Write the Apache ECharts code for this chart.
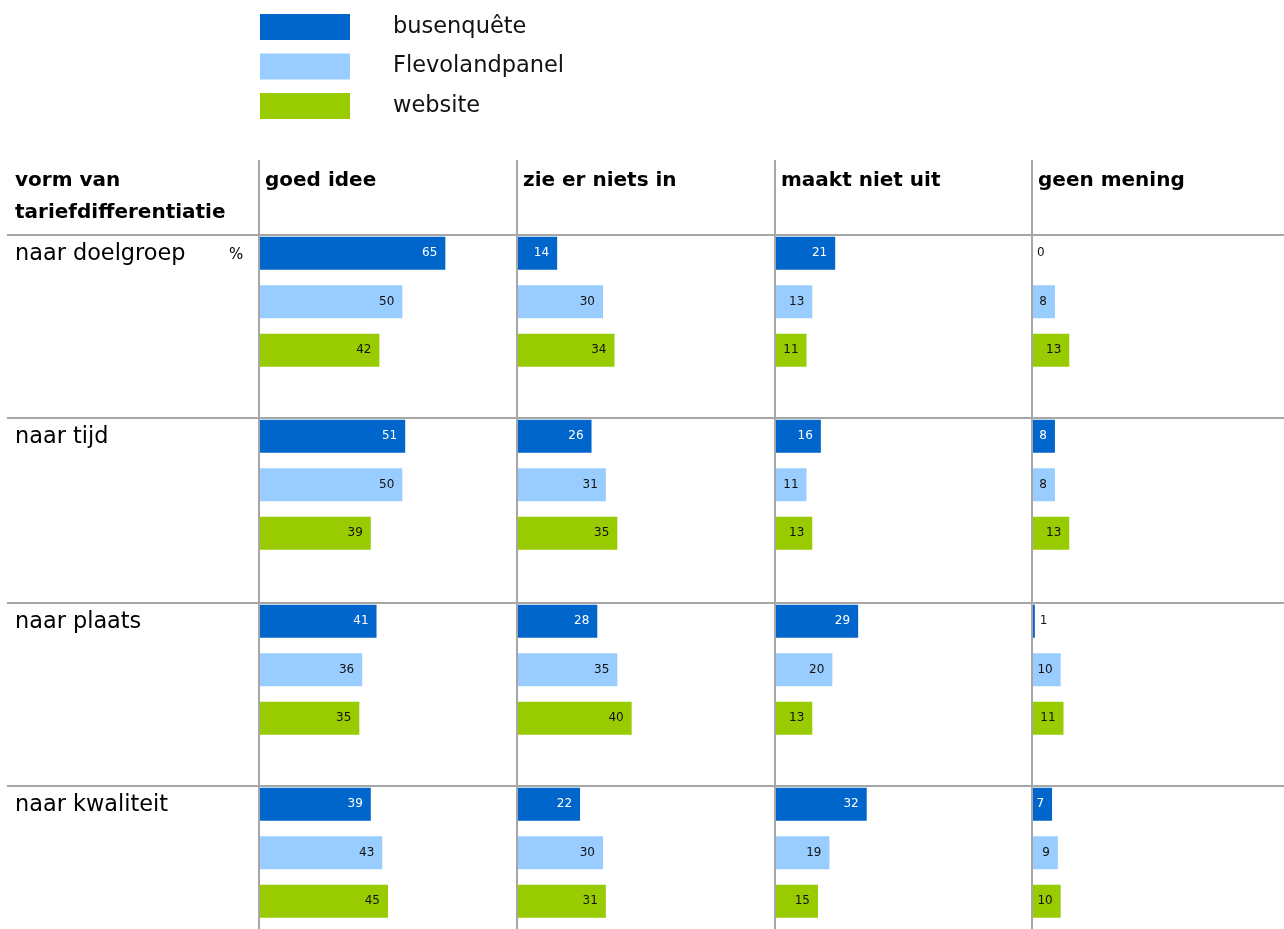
<!DOCTYPE html>
<html>
<head>
<meta charset="utf-8">
<script src="https://cdn.jsdelivr.net/npm/echarts@6/dist/echarts.min.js"></script>
<style>
  html, body { margin: 0; padding: 0; background: #fff; }
  #chart { width: 1284px; height: 929px; }
</style>
</head>
<body>
<div id="chart"></div>
<script>
// kolommen (antwoorden) en rijen (vorm van tariefdifferentiatie)
const answers = ["goed idee", "zie er niets in", "maakt niet uit", "geen mening"];
const forms = ["naar doelgroep", "naar tijd", "naar plaats", "naar kwaliteit"];
const seriesNames = ["busenquête", "Flevolandpanel", "website"];

// percentages, per rij: [goed idee, zie er niets in, maakt niet uit, geen mening]
const busenquete = [
  [65, 14, 21, 0],
  [51, 26, 16, 8],
  [41, 28, 29, 1],
  [39, 22, 32, 7]
];
const flevolandpanel = [
  [50, 30, 13, 8],
  [50, 31, 11, 8],
  [36, 35, 20, 10],
  [43, 30, 19, 9]
];
const website = [
  [42, 34, 11, 13],
  [39, 35, 13, 13],
  [35, 40, 13, 11],
  [45, 31, 15, 10]
];

const colors = ["#0066CC", "#99CCFF", "#99CC00"];
const labelColors = ["#ffffff", "#111111", "#111111"];
const lineColor = "#A6A6A6";

const colX = [259, 517, 775, 1032];
const rowY = [235, 418, 603, 786];
const font = "DejaVu Sans";

const chart = echarts.init(document.getElementById("chart"));

const grids = [], xAxes = [], yAxes = [], series = [];
const allData = [busenquete, flevolandpanel, website];

forms.forEach((form, r) => {
  answers.forEach((ans, c) => {
    const gi = grids.length;
    const w = Math.min(258, 1284 - colX[c]);
    grids.push({ left: colX[c], top: rowY[r] - 6, width: w, height: 145.5 });
    xAxes.push({ gridIndex: gi, type: "value", min: 0, max: 90 * w / 258, show: false });
    yAxes.push({ gridIndex: gi, type: "category", inverse: true, show: false, data: ["a", "b", "c"] });
    allData.forEach((arr, s) => {
      const v = arr[r][c];
      const data = ["-", "-", "-"];
      data[s] = v;
      series.push({
        name: seriesNames[s],
        type: "bar",
        xAxisIndex: gi,
        yAxisIndex: gi,
        barWidth: 33,
        barGap: "-100%",
        itemStyle: { color: colors[s] },
        silent: true,
        label: {
          show: true,
          position: v < 3 ? "right" : "insideRight",
          distance: v < 3 ? 5 : 8,
          color: v < 3 ? "#111" : labelColors[s],
          fontFamily: font,
          fontSize: 12
        },
        data: data
      });
    });
  });
});

const graphics = [];
// rasterlijnen
colX.forEach(x => {
  graphics.push({ type: "line", z: 100, shape: { x1: x, y1: 160, x2: x, y2: 929 }, style: { stroke: lineColor, lineWidth: 2 } });
});
rowY.forEach(y => {
  graphics.push({ type: "line", z: 100, shape: { x1: 7, y1: y, x2: 1284, y2: y }, style: { stroke: lineColor, lineWidth: 2 } });
});
// kopteksten
graphics.push({ type: "text", left: 15, top: 171, style: { text: "vorm van", font: "bold 20px " + font, fill: "#000" } });
graphics.push({ type: "text", left: 15, top: 203, style: { text: "tariefdifferentiatie", font: "bold 20px " + font, fill: "#000" } });
answers.forEach((a, c) => {
  graphics.push({ type: "text", left: colX[c] + 6, top: 171, style: { text: a, font: "bold 20px " + font, fill: "#000" } });
});
forms.forEach((f, r) => {
  graphics.push({ type: "text", left: 15, top: rowY[r] + 8, style: { text: f, font: "22.4px " + font, fill: "#000" } });
});
graphics.push({ type: "text", left: 229, top: rowY[0] + 13, style: { text: "%", font: "15px " + font, fill: "#000" } });

chart.setOption({
  animation: false,
  legend: {
    orient: "vertical",
    left: 260,
    top: 14,
    padding: 0,
    itemWidth: 90,
    itemHeight: 26,
    itemGap: 13.5,
    icon: "rect",
    selectedMode: false,
    data: seriesNames,
    textStyle: { fontFamily: font, fontSize: 22.5, color: "#111", padding: [8, 0, 0, 38] }
  },
  grid: grids,
  xAxis: xAxes,
  yAxis: yAxes,
  series: series,
  graphic: graphics
});
</script>
</body>
</html>
